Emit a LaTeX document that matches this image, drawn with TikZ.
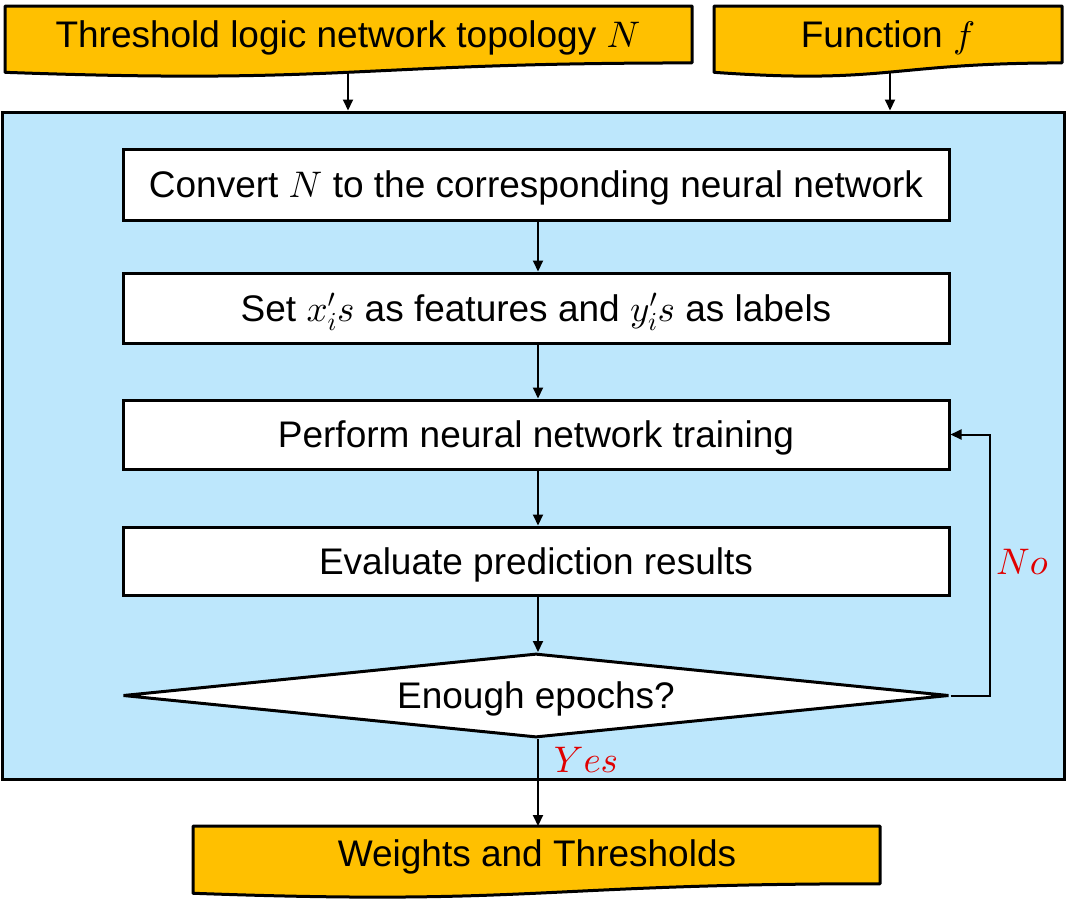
\documentclass[tikz,border=0pt]{standalone}
\usepackage{fontspec}
\setmainfont{Liberation Sans}
\usetikzlibrary{arrows.meta,shapes.geometric}
% make the Computer Modern math fonts scalable to any size
\DeclareFontFamily{OML}{cmm}{\skewchar\font'177}
\DeclareFontShape{OML}{cmm}{m}{it}{<->cmmi10}{}
\DeclareFontFamily{OMS}{cmsy}{\skewchar\font'60}
\DeclareFontShape{OMS}{cmsy}{m}{n}{<->cmsy10}{}
\definecolor{docorange}{HTML}{FFC000}
\definecolor{panelblue}{HTML}{BDE7FC}
\definecolor{labelred}{HTML}{E00000}
% document shape: #1 left x, #2 top y, #3 right x, #4 nominal bottom y
\newcommand{\docpath}[4]{%
  \filldraw[docstyle] (#1,#2) -- (#3,#2) -- (#3,{#2+0.802*(#4-#2)})
    .. controls ({(#1+#3)/2},{#2+0.802*(#4-#2)}) and ({(#1+#3)/2},{#2+1.108*(#4-#2)}) ..
    (#1,{#2+0.934*(#4-#2)}) -- cycle;}
\begin{document}
\begin{tikzpicture}[x=1pt,y=-1pt,
  every node/.style={font=\fontsize{37}{44}\selectfont},
  captext/.style={text height=26.5pt,text depth=0pt},
  docstyle/.style={fill=docorange,draw=black,line width=3pt,line join=round},
  doctext/.style={captext,inner sep=0pt},
  panel/.style={fill=panelblue,draw=black,line width=3pt,minimum width=1062pt,minimum height=667pt,inner sep=0pt},
  stepbox/.style={captext,fill=white,draw=black,line width=3pt,minimum width=826pt,minimum height=70pt,inner sep=0pt},
  decision/.style={captext,diamond,fill=white,draw=black,line width=3pt,shape aspect=9.83,minimum width=826pt,minimum height=84pt,inner sep=0pt},
  arr/.style={draw=black,line width=2pt,-{Triangle[length=11pt,width=10pt]}},
  lbl/.style={text=labelred,inner sep=0pt}]
\useasboundingbox (0,0) rectangle (1068,900);
% input documents
\docpath{5}{6}{692}{77}
\docpath{714}{6}{1062}{77}
\node[doctext] (topo) at (348,34.5) {Threshold logic network topology $N$};
\node[doctext] (func) at (888,34.5) {Function $f$};
\coordinate (topoB) at (348,72);
\coordinate (funcB) at (890,72);
% panel
\node[panel] (panel) at (533,445.5) {};
\draw[arr] (topoB) -- (topoB |- panel.north);
\draw[arr] (funcB) -- (funcB |- panel.north);
% steps
\node[stepbox,minimum height=71pt] (b1) at (536,184.5) {Convert $N$ to the corresponding neural network};
\node[stepbox] (b2) at (536,308) {Set $x_i's$ as features and $y_i's$ as labels};
\node[stepbox,minimum height=69pt] (b3) at (536,434.5) {Perform neural network training};
\node[stepbox,minimum height=68pt] (b4) at (536,561) {Evaluate prediction results};
\node[decision] (dec) at (536,695.5) {Enough epochs?};
\draw[arr] (b1.south -| 538,0) -- (b2.north -| 538,0);
\draw[arr] (b2.south -| 538,0) -- (b3.north -| 538,0);
\draw[arr] (b3.south -| 538,0) -- (b4.north -| 538,0);
\draw[arr] (b4.south -| 538,0) -- (dec.north -| 538,0);
\draw[arr] (dec.east) -- ++(39,0) |- (b3.east);
\node[lbl] (no) at (1022,562) {$No$};
% output document
\docpath{193}{826}{880}{898}
\node[doctext] (res) at (537,853.5) {Weights and Thresholds};
\coordinate (resT) at (538,826);
\draw[arr] (dec.south -| 538,0) -- (resT);
\node[lbl] (yes) at (586,760) {$Yes$};
\end{tikzpicture}
\end{document}
